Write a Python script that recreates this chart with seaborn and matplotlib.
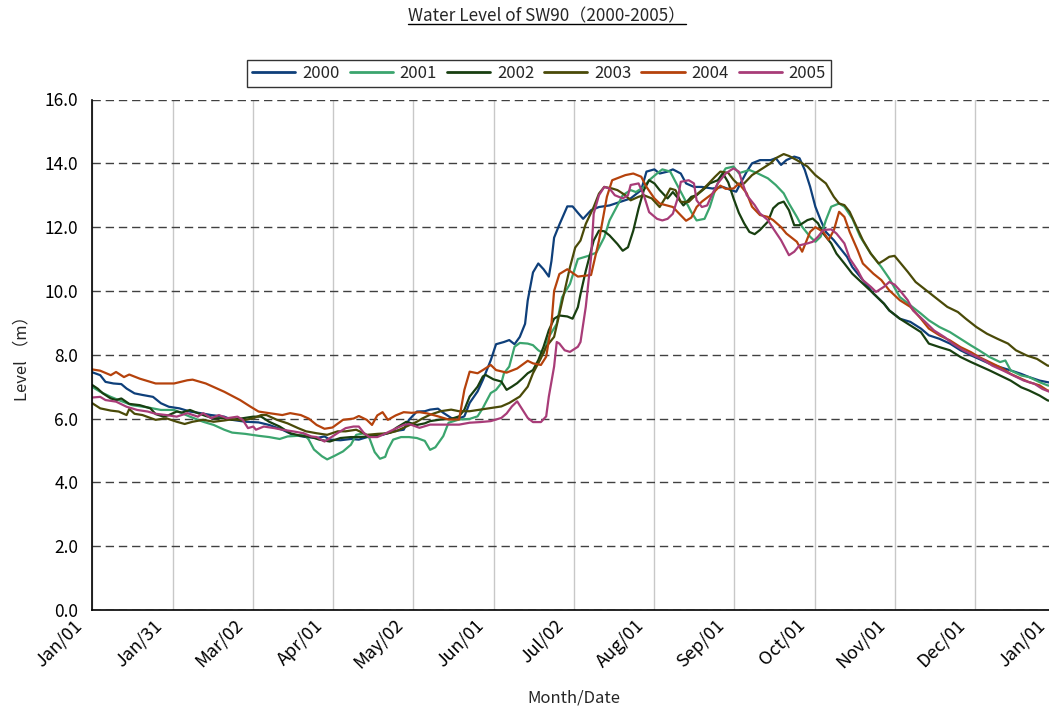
import numpy as np
import pandas as pd
import seaborn as sns
import matplotlib.pyplot as plt
from matplotlib.lines import Line2D
from matplotlib.ticker import FormatStrFormatter
from matplotlib.transforms import ScaledTranslation

# day-of-year / water level (m), one pair of lists per year
days_2000 = [0, 3, 5, 8, 11, 13, 16, 19, 23, 26, 29, 33, 37, 41, 45, 50, 53, 58, 63, 67, 72, 76, 81, 85, 88, 90,
             94, 98, 101, 105, 110, 114, 118, 120, 123, 126, 128, 131, 133, 136, 138, 141, 143, 146, 148, 151, 153,
             156, 158, 160, 162, 164, 165, 167, 169, 171, 173, 174, 175, 177, 180, 182, 184, 186, 189, 192, 196,
             200, 204, 208, 210, 213, 215, 218, 220, 223, 225, 228, 231, 235, 239, 242, 244, 245, 248, 250, 253,
             257, 259, 261, 263, 266, 268, 270, 272, 274, 276, 278, 281, 283, 286, 288, 292, 296, 300, 302, 306,
             310, 314, 317, 321, 325, 329, 333, 336, 340, 344, 348, 352, 355, 359, 362, 365]
level_2000 = [7.45, 7.36, 7.15, 7.1, 7.08, 6.94, 6.79, 6.74, 6.68, 6.48, 6.37, 6.32, 6.22, 6.17, 6.11, 6.06, 5.96,
              5.9, 5.88, 5.8, 5.65, 5.49, 5.42, 5.39, 5.44, 5.34, 5.32, 5.36, 5.34, 5.44, 5.49, 5.6, 5.65, 5.96,
              6.22, 6.23, 6.28, 6.31, 6.18, 6.02, 5.97, 6.07, 6.49, 6.85, 7.21, 7.83, 8.33, 8.4, 8.46, 8.33, 8.56,
              8.97, 9.7, 10.58, 10.86, 10.68, 10.45, 10.94, 11.67, 12.08, 12.65, 12.65, 12.45, 12.26, 12.53, 12.63,
              12.68, 12.79, 12.9, 13.16, 13.74, 13.81, 13.68, 13.74, 13.81, 13.68, 13.37, 13.26, 13.26, 13.21,
              13.26, 13.16, 13.11, 13.27, 13.74, 14.0, 14.1, 14.1, 14.16, 13.95, 14.1, 14.21, 14.16, 13.79, 13.27,
              12.64, 12.22, 11.85, 11.59, 11.38, 11.07, 10.75, 10.34, 9.92, 9.6, 9.39, 9.13, 9.03, 8.82, 8.61,
              8.5, 8.35, 8.14, 7.98, 7.87, 7.72, 7.61, 7.51, 7.4, 7.3, 7.19, 7.14, 7.1]

days_2001 = [0, 3, 7, 10, 15, 21, 26, 31, 37, 42, 46, 50, 53, 58, 63, 67, 71, 74, 78, 80, 82, 84, 87, 89, 92, 95,
             98, 100, 103, 105, 107, 109, 111, 112, 114, 117, 120, 123, 126, 128, 130, 133, 135, 139, 143, 146,
             148, 149, 151, 153, 155, 156, 158, 160, 162, 165, 167, 169, 171, 173, 176, 178, 181, 184, 188, 191,
             194, 196, 199, 201, 204, 206, 209, 211, 214, 216, 219, 221, 224, 227, 229, 232, 234, 236, 238, 240,
             243, 245, 247, 249, 252, 256, 259, 262, 264, 267, 269, 272, 274, 276, 278, 280, 283, 285, 288, 291,
             295, 299, 302, 306, 310, 314, 317, 321, 325, 329, 333, 336, 340, 344, 346, 348, 352, 355, 359, 362,
             365]
level_2001 = [6.99, 6.84, 6.68, 6.58, 6.42, 6.35, 6.27, 6.27, 6.06, 5.9, 5.8, 5.65, 5.56, 5.52, 5.46, 5.42, 5.36,
              5.44, 5.46, 5.54, 5.34, 5.03, 4.82, 4.72, 4.84, 4.97, 5.18, 5.49, 5.54, 5.39, 4.95, 4.74, 4.8, 5.03,
              5.34, 5.42, 5.42, 5.39, 5.3, 5.02, 5.1, 5.45, 5.87, 5.97, 5.99, 6.07, 6.33, 6.49, 6.8, 6.9, 7.11,
              7.42, 7.63, 8.25, 8.37, 8.35, 8.3, 8.14, 8.04, 8.56, 8.97, 9.8, 10.22, 11.0, 11.1, 11.2, 11.68,
              12.21, 12.68, 13.0, 13.16, 13.1, 13.26, 13.47, 13.68, 13.81, 13.74, 13.42, 12.95, 12.47, 12.21,
              12.26, 12.63, 13.16, 13.58, 13.84, 13.9, 13.69, 13.74, 13.79, 13.69, 13.53, 13.32, 13.06, 12.74,
              12.32, 12.01, 11.7, 11.54, 11.7, 12.22, 12.64, 12.74, 12.64, 12.27, 11.7, 11.17, 10.75, 10.39, 9.81,
              9.55, 9.29, 9.08, 8.87, 8.71, 8.5, 8.29, 8.14, 7.93, 7.77, 7.82, 7.51, 7.35, 7.3, 7.14, 7.04, 7.0]

days_2002 = [0, 2, 4, 7, 9, 11, 14, 18, 22, 24, 27, 29, 32, 34, 37, 40, 43, 46, 50, 53, 57, 61, 64, 67, 71, 75,
             79, 83, 86, 90, 94, 98, 101, 105, 109, 113, 115, 119, 123, 126, 128, 132, 136, 139, 141, 143, 146,
             148, 149, 152, 155, 157, 159, 161, 163, 165, 167, 169, 171, 173, 175, 177, 180, 182, 184, 185, 187,
             190, 192, 194, 196, 199, 201, 203, 205, 207, 209, 211, 213, 215, 218, 220, 222, 224, 227, 229, 232,
             234, 237, 239, 241, 243, 245, 247, 249, 251, 253, 256, 258, 260, 262, 264, 266, 268, 271, 273, 275,
             277, 280, 282, 285, 288, 292, 296, 300, 302, 306, 310, 314, 317, 321, 325, 329, 333, 336, 340, 344,
             348, 352, 355, 359, 362, 365]
level_2002 = [7.05, 6.94, 6.79, 6.63, 6.58, 6.63, 6.46, 6.42, 6.32, 6.14, 6.06, 6.11, 6.22, 6.19, 6.27, 6.17,
              6.08, 6.01, 6.01, 5.96, 6.01, 6.06, 6.06, 5.9, 5.75, 5.54, 5.46, 5.42, 5.34, 5.28, 5.39, 5.42, 5.42,
              5.44, 5.49, 5.56, 5.7, 5.9, 5.8, 5.85, 5.92, 5.97, 5.99, 6.07, 6.28, 6.69, 7.0, 7.32, 7.37, 7.23,
              7.16, 6.9, 7.0, 7.11, 7.26, 7.42, 7.52, 7.83, 8.25, 8.77, 9.13, 9.23, 9.2, 9.13, 9.49, 9.9, 10.63,
              11.58, 11.89, 11.87, 11.74, 11.47, 11.26, 11.37, 11.89, 12.58, 13.16, 13.47, 13.37, 13.16, 12.9,
              13.1, 12.9, 12.68, 12.95, 13.0, 13.21, 13.37, 13.47, 13.68, 13.4, 12.9, 12.45, 12.12, 11.85, 11.78,
              11.91, 12.17, 12.59, 12.74, 12.8, 12.53, 12.06, 12.06, 12.22, 12.27, 12.12, 11.8, 11.49, 11.17,
              10.86, 10.54, 10.23, 9.92, 9.6, 9.39, 9.13, 8.92, 8.71, 8.35, 8.24, 8.14, 7.93, 7.77, 7.66, 7.51,
              7.35, 7.19, 6.98, 6.88, 6.72, 6.57, 6.52]

days_2003 = [0, 3, 7, 10, 13, 14, 16, 19, 24, 28, 32, 35, 38, 42, 46, 50, 53, 57, 61, 64, 66, 70, 74, 78, 81, 85,
             89, 93, 96, 100, 104, 108, 112, 115, 119, 123, 125, 128, 132, 136, 139, 143, 147, 151, 155, 158, 162,
             165, 167, 170, 172, 175, 177, 179, 181, 183, 185, 187, 190, 192, 194, 197, 199, 202, 204, 207, 209,
             212, 215, 217, 219, 221, 223, 226, 228, 231, 233, 236, 238, 241, 243, 245, 247, 250, 254, 257, 259,
             262, 264, 267, 271, 274, 278, 281, 283, 285, 287, 289, 292, 295, 298, 300, 302, 304, 306, 309, 312,
             316, 320, 324, 328, 331, 335, 339, 343, 347, 350, 354, 358, 362, 365]
level_2003 = [6.48, 6.32, 6.25, 6.22, 6.11, 6.3, 6.15, 6.11, 5.96, 6.01, 5.9, 5.83, 5.9, 5.96, 5.9, 5.94, 5.98,
              5.94, 6.01, 6.11, 6.11, 5.96, 5.85, 5.7, 5.6, 5.54, 5.49, 5.6, 5.6, 5.65, 5.49, 5.52, 5.54, 5.6,
              5.75, 5.9, 6.0, 6.12, 6.23, 6.28, 6.23, 6.23, 6.28, 6.33, 6.38, 6.49, 6.69, 7.0, 7.42, 7.89, 8.25,
              8.56, 9.28, 10.01, 10.74, 11.36, 11.58, 12.1, 12.63, 13.05, 13.26, 13.21, 13.16, 13.0, 12.84, 12.95,
              13.0, 12.9, 12.63, 12.9, 13.21, 13.16, 12.79, 12.79, 12.95, 13.16, 13.32, 13.58, 13.74, 13.7, 13.48,
              13.32, 13.37, 13.63, 13.84, 14.0, 14.16, 14.29, 14.23, 14.1, 13.9, 13.63, 13.37, 12.95, 12.74, 12.69,
              12.48, 12.12, 11.59, 11.17, 10.86, 10.96, 11.07, 11.1, 10.9, 10.6, 10.28, 10.02, 9.76, 9.5, 9.34,
              9.13, 8.87, 8.66, 8.5, 8.35, 8.14, 7.98, 7.87, 7.66, 7.62]

days_2004 = [0, 3, 7, 9, 12, 14, 18, 24, 31, 36, 38, 43, 50, 56, 60, 63, 67, 72, 75, 79, 82, 85, 88, 91, 95, 99,
             101, 104, 106, 108, 110, 112, 115, 118, 121, 124, 127, 131, 135, 139, 141, 143, 146, 148, 151, 153,
             157, 161, 165, 167, 170, 172, 174, 175, 177, 180, 184, 189, 192, 195, 197, 202, 205, 208, 210, 213,
             215, 220, 223, 225, 227, 229, 231, 235, 238, 240, 243, 245, 248, 250, 253, 256, 258, 261, 263, 267,
             269, 272, 274, 277, 279, 281, 283, 285, 287, 290, 292, 296, 299, 302, 306, 310, 314, 317, 321, 325,
             329, 333, 336, 340, 344, 348, 352, 355, 359, 362, 365]
level_2004 = [7.54, 7.5, 7.36, 7.46, 7.3, 7.38, 7.25, 7.1, 7.1, 7.2, 7.22, 7.1, 6.84, 6.58, 6.37, 6.22, 6.17,
              6.11, 6.17, 6.11, 6.0, 5.8, 5.68, 5.72, 5.96, 6.0, 6.08, 5.96, 5.8, 6.1, 6.2, 5.96, 6.1, 6.2, 6.18,
              6.2, 6.16, 6.07, 5.97, 5.97, 6.9, 7.47, 7.42, 7.52, 7.68, 7.52, 7.44, 7.57, 7.81, 7.73, 7.68, 7.94,
              8.97, 10.0, 10.53, 10.68, 10.45, 10.5, 11.58, 12.95, 13.47, 13.63, 13.68, 13.58, 13.26, 12.9, 12.74,
              12.63, 12.37, 12.2, 12.3, 12.63, 12.8, 13.05, 13.3, 13.2, 13.21, 13.37, 13.06, 12.64, 12.38, 12.32,
              12.22, 12.0, 11.8, 11.54, 11.23, 11.85, 12.0, 11.85, 11.6, 11.9, 12.48, 12.32, 11.85, 11.28, 10.86,
              10.54, 10.34, 10.02, 9.71, 9.5, 9.13, 8.82, 8.61, 8.45, 8.24, 8.08, 7.93, 7.77, 7.61, 7.4, 7.25,
              7.14, 7.04, 6.88, 6.85]

days_2005 = [0, 3, 5, 9, 13, 17, 21, 24, 28, 32, 36, 40, 42, 45, 48, 51, 55, 57, 59, 61, 62, 65, 69, 72, 76, 80,
             83, 85, 88, 91, 94, 96, 99, 101, 103, 105, 108, 110, 114, 118, 120, 124, 128, 132, 136, 139, 143, 147,
             151, 155, 157, 159, 161, 163, 165, 167, 170, 172, 173, 175, 176, 177, 179, 181, 184, 185, 187, 189,
             190, 192, 194, 196, 198, 201, 203, 204, 207, 209, 211, 214, 216, 218, 220, 222, 223, 226, 228, 229,
             231, 233, 235, 237, 240, 242, 243, 245, 246, 248, 251, 253, 256, 258, 261, 263, 264, 266, 268, 271,
             273, 275, 277, 280, 282, 285, 287, 290, 292, 295, 297, 300, 302, 304, 306, 309, 311, 315, 319, 323,
             326, 330, 334, 338, 341, 345, 349, 353, 357, 360, 363, 365]
level_2005 = [6.66, 6.68, 6.58, 6.53, 6.37, 6.27, 6.22, 6.15, 6.11, 6.06, 6.17, 6.06, 6.17, 6.01, 6.11, 6.01,
              6.06, 5.96, 5.7, 5.75, 5.65, 5.75, 5.7, 5.65, 5.6, 5.54, 5.44, 5.42, 5.28, 5.44, 5.6, 5.7, 5.75,
              5.75, 5.54, 5.42, 5.42, 5.49, 5.65, 5.8, 5.83, 5.71, 5.81, 5.81, 5.81, 5.81, 5.87, 5.89, 5.92, 6.02,
              6.16, 6.38, 6.54, 6.28, 6.02, 5.89, 5.89, 6.07, 6.69, 7.63, 8.4, 8.35, 8.14, 8.09, 8.25, 8.4, 9.5,
              11.05, 12.42, 13.0, 13.26, 13.21, 13.0, 12.9, 13.0, 13.32, 13.37, 13.0, 12.47, 12.26, 12.21, 12.26,
              12.42, 12.95, 13.42, 13.47, 13.37, 12.84, 12.63, 12.68, 13.05, 13.37, 13.68, 13.79, 13.84, 13.74,
              13.48, 13.0, 12.69, 12.43, 12.22, 11.96, 11.59, 11.28, 11.12, 11.23, 11.43, 11.49, 11.54, 11.7,
              11.91, 11.93, 11.8, 11.49, 11.02, 10.65, 10.34, 10.13, 9.97, 10.13, 10.28, 10.2, 10.02, 9.71, 9.39,
              9.08, 8.76, 8.55, 8.35, 8.14, 7.98, 7.82, 7.66, 7.51, 7.35, 7.19, 7.09, 6.93, 6.83, 6.8]

years = ["2000", "2001", "2002", "2003", "2004", "2005"]
colors = ["#0E3F7A", "#3BA56E", "#183F10", "#4A4A08", "#B5420C", "#A83C78"]
tick_days = np.linspace(0, 365, 13)
tick_labels = ["Jan/01", "Jan/31", "Mar/02", "Apr/01", "May/02", "Jun/01", "Jul/02",
               "Aug/01", "Sep/01", "Oct/01", "Nov/01", "Dec/01", "Jan/01"]

all_days = [days_2000, days_2001, days_2002, days_2003, days_2004, days_2005]
all_levels = [level_2000, level_2001, level_2002, level_2003, level_2004, level_2005]
frames = []
for y, d, v in zip(years, all_days, all_levels):
    frames.append(pd.DataFrame({"year": y, "day": d, "level": v}))
df = pd.concat(frames, ignore_index=True)

sns.set_theme(style="white")
plt.rcParams['font.family'] = ['Noto Sans CJK JP', 'DejaVu Sans']

W, H = 1049, 713
fig = plt.figure(figsize=(W / 100, H / 100), dpi=100)
ax = fig.add_axes([92.3 / W, 103 / H, 963.2 / W, 510.5 / H])

sns.lineplot(data=df, x="day", y="level", hue="year", hue_order=years,
             palette=dict(zip(years, colors)), estimator=None, sort=False,
             linewidth=1.6, ax=ax, legend=False)

ax.set_xlim(0, 365)
ax.set_ylim(0, 16)
ax.set_yticks(np.arange(0, 16.1, 2))
ax.yaxis.set_major_formatter(FormatStrFormatter('%.1f'))
ax.set_xticks(tick_days)
ax.set_xticklabels(tick_labels, rotation=45, ha="right", va="center", rotation_mode="anchor")
ax.tick_params(axis="both", colors="black", direction="in", length=4, width=1)
ax.tick_params(axis="y", labelsize=12.5, pad=10)
ax.tick_params(axis="x", labelsize=13, pad=9)
# nudge the rotated date labels to the left so their ends sit at the ticks
shift = ScaledTranslation(-13 / 100, 0, fig.dpi_scale_trans)
for lab in ax.get_xticklabels():
    lab.set_transform(lab.get_transform() + shift)

ax.yaxis.grid(True, color="#404040", lw=1.0, ls=(0, (6, 3.5)))
ax.xaxis.grid(True, color="#c8c8c8", lw=1.0, ls="-")
ax.set_axisbelow(True)
for s in ["top", "right"]:
    ax.spines[s].set_visible(False)
for s in ["left", "bottom"]:
    ax.spines[s].set_color("black")
    ax.spines[s].set_linewidth(1.2)

ax.set_xlabel("Month/Date", fontsize=12, labelpad=12)
ax.set_ylabel("Level （m）", fontsize=12, labelpad=10)

handles = [Line2D([], [], color=c, lw=2) for c in colors]
fig.legend(handles, years, loc="center", bbox_to_anchor=(539 / W, 1 - 73 / H), ncol=6,
           frameon=True, fancybox=False, edgecolor="black", fontsize=12,
           handlelength=2.6, handletextpad=0.4, columnspacing=0.6, borderpad=0.3)

title = fig.text(547 / W, 1 - 16 / H, "Water Level of SW90（2000-2005）", ha="center", va="center",
                 fontsize=12.3)
fig.canvas.draw()
bb = title.get_window_extent()
fig.add_artist(Line2D([bb.x0, bb.x1], [bb.y0 + 1, bb.y0 + 1], transform=None, color="black", lw=1))

fig.savefig("out.png", dpi=100)
